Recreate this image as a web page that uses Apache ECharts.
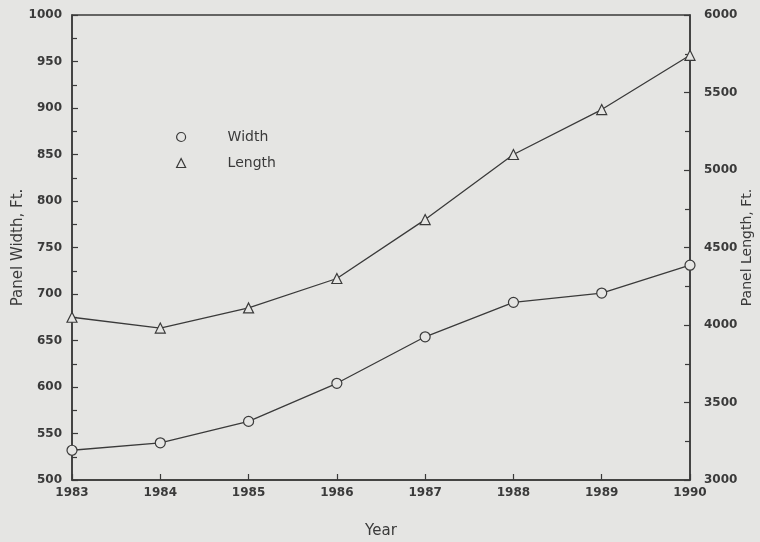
<!DOCTYPE html>
<html><head><meta charset="utf-8">
<script src="https://cdn.jsdelivr.net/npm/echarts@6/dist/echarts.min.js"></script>
<style>html,body{margin:0;padding:0;background:#e5e5e3;}#c{width:760px;height:542px;}</style>
</head><body><div id="c"></div>
<script>
const years = [1983, 1984, 1985, 1986, 1987, 1988, 1989, 1990];
const widthFt = [532, 540, 563, 604, 654, 691, 701, 731];
const lengthFt = [4050, 3980, 4110, 4300, 4680, 5100, 5390, 5740];
const leftTicks = [500, 550, 600, 650, 700, 750, 800, 850, 900, 950, 1000];
const rightTicks = [3000, 3500, 4000, 4500, 5000, 5500, 6000];

const ink = '#3a3a3a';
const bg = '#e5e5e3';
const font = 'DejaVu Sans';
const chart = echarts.init(document.getElementById('c'), null, {renderer: 'canvas'});
const axLine = {show: true, lineStyle: {color: ink, width: 1.5}};
chart.setOption({
  backgroundColor: bg,
  animation: false,
  grid: {left: 72, right: 70, top: 15, bottom: 62, outerBoundsMode: 'none', containLabel: false,
    show: true, borderColor: ink, borderWidth: 1.5, backgroundColor: 'transparent'},
  legend: {
    orient: 'vertical', left: 171, top: 125, itemGap: 12, itemWidth: 9, itemHeight: 9,
    textStyle: {fontFamily: font, fontSize: 14, color: ink, padding: [0, 0, 0, 37]},
    data: [{name: 'Width', icon: 'circle'}, {name: 'Length', icon: 'triangle'}],
    itemStyle: {color: bg, borderColor: ink, borderWidth: 1.2}
  },
  xAxis: {
    type: 'value', min: 1983, max: 1990, interval: 1,
    name: 'Year', nameLocation: 'middle', nameGap: 44, nameMoveOverlap: false,
    nameTextStyle: {fontFamily: font, fontSize: 15, color: ink},
    axisLine: axLine, axisTick: {show: true, inside: true, length: 6, lineStyle: {color: ink, width: 1.2}},
    splitLine: {show: false},
    axisLabel: {fontFamily: font, fontSize: 12, fontWeight: 'bold', color: ink, margin: 7, formatter: v => String(v)}
  },
  yAxis: [{
    type: 'value', min: 500, max: 1000, interval: 50, position: 'left',
    name: 'Panel Width, Ft.', nameLocation: 'middle', nameGap: 46, nameRotate: 90, nameMoveOverlap: false,
    nameTextStyle: {fontFamily: font, fontSize: 15, color: ink},
    axisLine: axLine, axisTick: {show: true, inside: true, length: 6, lineStyle: {color: ink, width: 1.2}},
    minorTick: {show: true, splitNumber: 2, length: 5, lineStyle: {color: ink, width: 1.2}},
    splitLine: {show: false},
    axisLabel: {fontFamily: font, fontSize: 12, fontWeight: 'bold', color: ink, margin: 10,
      formatter: v => leftTicks.includes(v) ? String(v) : ''}
  }, {
    type: 'value', min: 3000, max: 6000, interval: 500, position: 'right',
    name: 'Panel Length, Ft.', nameLocation: 'middle', nameGap: 50, nameRotate: 90, nameMoveOverlap: false,
    nameTextStyle: {fontFamily: font, fontSize: 14, color: ink},
    axisLine: axLine, axisTick: {show: true, inside: true, length: 6, lineStyle: {color: ink, width: 1.2}},
    minorTick: {show: true, splitNumber: 2, length: 5, lineStyle: {color: ink, width: 1.2}},
    splitLine: {show: false},
    axisLabel: {fontFamily: font, fontSize: 12, fontWeight: 'bold', color: ink, margin: 14,
      formatter: v => rightTicks.includes(v) ? String(v) : ''}
  }],
  series: [{
    name: 'Width', type: 'line', yAxisIndex: 0,
    data: years.map((y, i) => [y, widthFt[i]]),
    symbol: 'circle', symbolSize: 10,
    itemStyle: {color: bg, borderColor: ink, borderWidth: 1.2},
    lineStyle: {color: ink, width: 1.3}
  }, {
    name: 'Length', type: 'line', yAxisIndex: 1,
    data: years.map((y, i) => [y, lengthFt[i]]),
    symbol: 'triangle', symbolSize: 10,
    itemStyle: {color: bg, borderColor: ink, borderWidth: 1.2},
    lineStyle: {color: ink, width: 1.3}
  }]
});
</script></body></html>
